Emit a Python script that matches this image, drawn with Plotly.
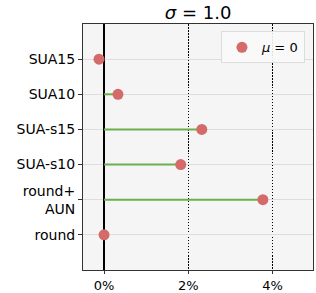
import plotly.graph_objects as go

categories = ["SUA15", "SUA10", "SUA-s15", "SUA-s10", "round+<br>AUN", "round"]
values = [-0.12, 0.33, 2.32, 1.82, 3.77, 0.0]
x_ticks = [0, 2, 4]
x_ticklabels = ["0%", "2%", "4%"]

line_x, line_y = [], []
for c, v in zip(categories, values):
    line_x += [0, v, None]
    line_y += [c, c, None]

fig = go.Figure()
fig.add_trace(go.Scatter(x=line_x, y=line_y, mode="lines",
                         line=dict(color="#6ab04c", width=2), showlegend=False,
                         hoverinfo="skip"))
fig.add_trace(go.Scatter(x=values, y=categories, mode="markers",
                         marker=dict(color="#d46a6a", size=11),
                         name="<i>μ</i> = 0"))

fig.update_layout(
    width=316, height=293,
    margin=dict(l=83, r=3, t=24, b=23),
    paper_bgcolor="white", plot_bgcolor="#f5f5f5",
    font=dict(family="DejaVu Sans", size=14, color="black"),
    title=dict(text="<i>σ</i> = 1.0", x=0.627, xanchor="center", y=0.955, yanchor="middle",
               font=dict(size=18)),
    legend=dict(x=0.965, y=0.97, xanchor="right", yanchor="top",
                bgcolor="rgba(250,250,250,0.9)", bordercolor="#dddddd", borderwidth=1,
                font=dict(size=13), itemwidth=30),
)
fig.update_xaxes(range=[-0.5, 4.96], tickvals=x_ticks, ticktext=x_ticklabels,
                 showgrid=True, gridcolor="black", griddash="1.5px,1.5px", gridwidth=1,
                 zeroline=True, zerolinecolor="black", zerolinewidth=1.5,
                 showline=True, linecolor="#333", linewidth=1, mirror=True,
                 ticks="outside", ticklen=3, tickcolor="#333", automargin=False,
                 tickfont=dict(size=13))
fig.update_yaxes(type="category", categoryorder="array", categoryarray=categories,
                 range=[6, -1],
                 showgrid=True, gridcolor="#dddddd", gridwidth=1,
                 showline=True, linecolor="#333", linewidth=1, mirror=True,
                 ticks="outside", ticklen=4, tickcolor="#333", automargin=False)

fig.write_html("out.html", config={"displayModeBar": False},
               post_script="document.body.style.margin='0';document.body.style.overflow='hidden';")
